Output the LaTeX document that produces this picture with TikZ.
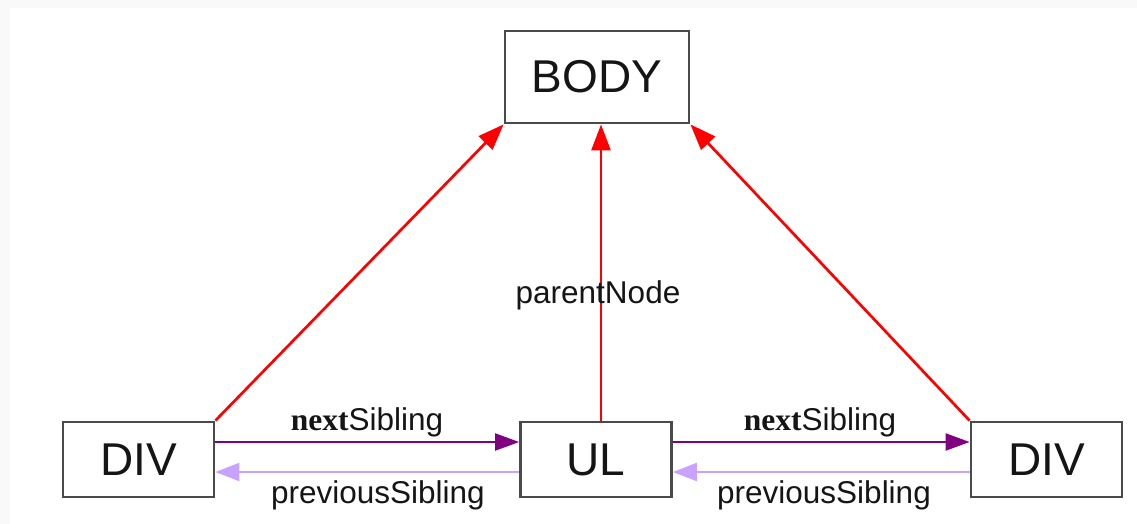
\documentclass[tikz,border=0pt]{standalone}
\usepackage{fontspec}
\setmainfont{Liberation Sans}
\newfontfamily\serifbold{Liberation Serif}
\usetikzlibrary{arrows.meta}
\definecolor{boxline}{HTML}{4A4A4A}
\definecolor{textgray}{HTML}{151515}
\definecolor{nextcol}{HTML}{800080}
\definecolor{prevcol}{HTML}{C9A2FF}
\tikzset{
  elem/.style={draw=boxline, line width=2.8pt, fill=white, minimum width=151pt,
    minimum height=75pt, inner sep=0pt, text=textgray,
    font=\fontsize{46}{50}\selectfont},
  parentlink/.style={draw=red, line width=2.7pt,
    -{Triangle[length=26pt,width=19pt]}},
  nextlink/.style={draw=nextcol, line width=2.2pt,
    -{Triangle[length=24pt,width=17pt]}},
  prevlink/.style={draw=prevcol, line width=2.2pt,
    -{Triangle[length=24pt,width=18pt]}},
  lbl/.style={anchor=base, inner sep=0pt, text=textgray,
    font=\fontsize{31.5}{36}\selectfont}
}
\newcommand{\nextlabel}{{\serifbold\bfseries next}Sibling}
\begin{document}
\begin{tikzpicture}[x=1pt, y=-1pt]
  % page background with a faint grey margin
  \fill[gray!5] (0,0) rectangle (1137,524);
  \fill[white] (10,8) rectangle (1137,524);
  \useasboundingbox (0,0) rectangle (1137,524);

  % elements
  \node[elem, minimum width=184pt, minimum height=92pt] (body) at (597,77) {BODY};
  \node[elem] (div1) at (138.5,459.5) {DIV};
  \node[elem] (ul)   at (596,459.5) {UL};
  \node[elem] (div2) at (1046.5,459.5) {DIV};

  % parentNode links
  \draw[parentlink] (div1.north east) -- (body.south west);
  \draw[parentlink] ([xshift=5pt]ul.north) -- ([xshift=4pt]body.south);
  \draw[parentlink] (div2.north west) -- (body.south east);
  \node[lbl] (pn) at (598,303) {parentNode};

  % sibling links
  \draw[nextlink] ([yshift=17.5pt]div1.east) -- ([yshift=17.5pt]ul.west);
  \draw[prevlink] ([yshift=-12.5pt]ul.west) -- ([yshift=-12.5pt]div1.east);
  \draw[nextlink] ([yshift=17.5pt]ul.east) -- ([yshift=17.5pt]div2.west);
  \draw[prevlink] ([yshift=-12.5pt]div2.west) -- ([yshift=-12.5pt]ul.east);

  \node[lbl] (n1) at (367,430) {\nextlabel};
  \node[lbl] (p1) at (378,503) {previousSibling};
  \node[lbl] (n2) at (820,430) {\nextlabel};
  \node[lbl] (p2) at (824,503) {previousSibling};
\end{tikzpicture}
\end{document}
